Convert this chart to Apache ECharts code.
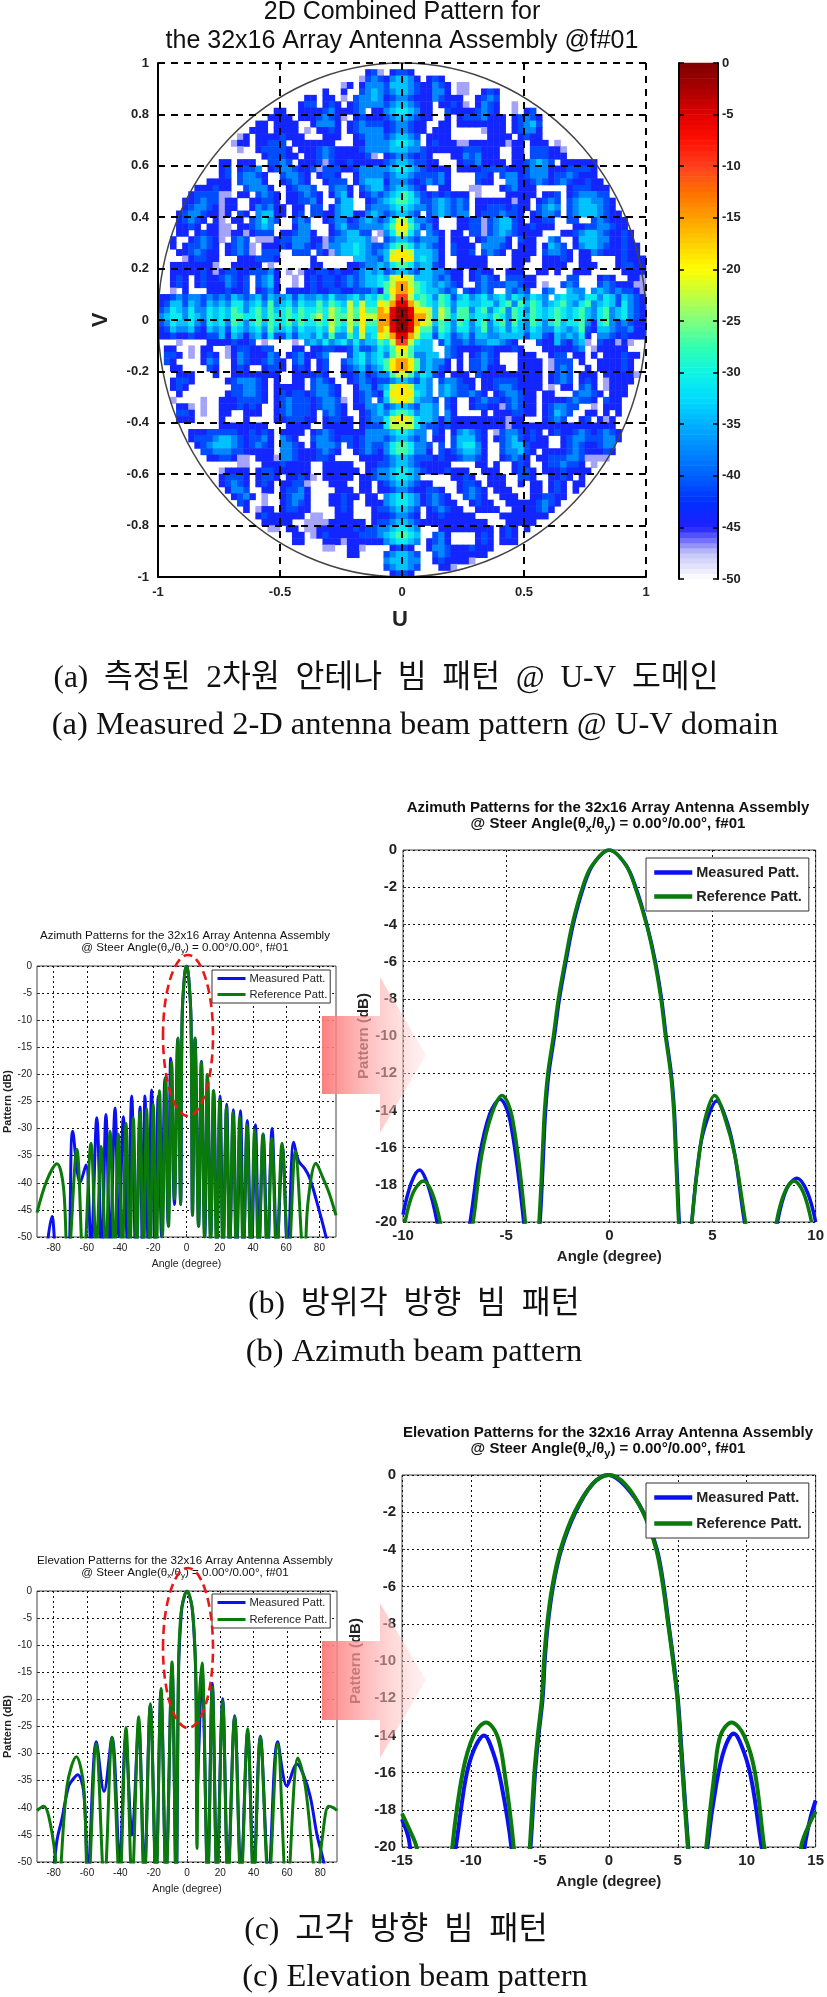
<!DOCTYPE html>
<html><head><meta charset="utf-8">
<style>html,body{margin:0;padding:0;background:#fff}#c{width:827px;height:1997px}</style>
<script src="https://cdn.jsdelivr.net/npm/echarts@6/dist/echarts.min.js"></script>
</head><body><div id="c"></div>
<script>
// Level codes, dB for each code
const levelDb = {a:-47,b:-44,c:-41,d:-37.5,e:-34,f:-31,g:-27,h:-22.5,i:-19,j:-15,k:-10,l:-5,m:-1};
const heatUL = [
"..... ..... ..... ..... ..... ..... ..... .....",
"..... ..... ..... ..... ..... ..... ....b ca.bd",
"..... ..... ..... ..... ..... ..... ...ac dcace",
"..... ..... ..... ..... ..... ..... ab.bd ddbde",
"..... ..... ..... ..... ..... ..b.. b..cd edbde",
"..... ..... ..... ..... ....b b.bb. a.cdd edbde",
"..... ..... ..... ..... ...bc c.bcb .bcdd ddbee",
"..... ..... ..... ....b b..bb bbcdb bbcd. bb.ee",
"..... ..... ..... ...bb bb.bb bcdcb a.bcb bbace",
"..... ..... ..... .bb.b bbb.. bdddb .bcdc ccade",
"..... ..... ..... bbb.b bbb.a .bbcb .bcdd ddaef",
"..... ..... ...ab .bbbb cbbb. ..bbb ..bcd ddaef",
"..... ..... ..abb .bbcc c.bbb bbbb. ..bbd ddaef",
"..... ..... ...a. .bccc cb.bb bcdcb bbbcd ddbee",
"..... ..... ..... ..bcc cbb.b bcdcb bbbbc a..de",
"..... ..... bb.bb b..cc dc.bb bcacb bcbbb bbbde",
"..... ..... bc.bc cd.bc ddcbb caccc bbcdd ddcef",
"..... ..... bc.cd dcb.. cddcb .bccb ..bdd ddcee",
"..... ...bb bb.cd ddb.. bcdcb ..bcc c.bde eedee",
"..... .bbbc bb..c dddb. .bcdd c..cd db.cd eeefg",
"..... bcccc aa.bb .cdcb .bbcd cb.bd eb.bc dccfg",
"....b bcdcc abb.. bbccb .bbcc db..c ee..b cdagh",
"....b cddcb abb.. bdcdb b.bb. cc.bd ee..c ddagh",
"...bc ddcbb ab.cb .deeb b.bc. ccbbd eebbd edbgh",
"...bc dcb.b a.bb. cdfdc ..cdc ..bcd dbcde dcbgi",
"...bb cb.bb aa.bb cded. ..bdd ...bd eccdd ddbgi",
"...bb .bcbb aabba bccc. bbcdd b..bc deecc .adhi",
"..b.. bcdcb a.cdc .aaab ccddd bbacd deeed a.ehi",
"..b.b ccdcb .bcdc a.bbb cbddc bcadd eefed ccfhi",
"...bb cdcbb .bcdc a.ccc ..ccc .cbad eefed cdfhi",
"....a bccbb ...bb bcccb ..... b.... ..eed dcfhj",
"..bbb bbbba ..bbb bb.a. ..... bb... .bbcd deghj",
"..bbb bbcba bccbb cccdb .a.ab bccbc bbcde defij",
"..bcb .bcbb cdcbc .cdeb ..a.b cbccb cdcde efgjj",
"..bcb .bcbb bdcbc .cdeb ..a.b cbccb cdcde efgjk",
"..a.b ...bb bcbbc .bcdb .bbbb cbbcc bbccc dbgij",
"bbcdc ddcdc dcedc deced deced dedfd defdf eghij",
"bceec edced edffd efdgd efdfe egegf ehfhf figkl",
"cdfed fddfe fegfd fgege fgegf fgfhg fhgig gjhlm",
"deffd fedfe feggf fgegf fgfgf ghfhg ghgih hjilm"
];
const heatUR = [
"..... ..... ..... ..... ..... ..... ..... .....",
"dc... ..... ..... ..... ..... ..... ..... .....",
"ed..b cb... ..... ..... ..... ..... ..... .....",
"eb.bb dcb.a a.... ..... ..... ..... ..... .....",
"eb.bb ddb.a a..bc b.... ..... ..... ..... .....",
"ed.bb dcbbb ..bcd c.... ..... ..... ..... .....",
"edbbb .bbcb a.bdc b..a. ..... ..... ..... .....",
"dcbbb ..cbb bbcdc b..a. bc... ..... ..... .....",
"dcbbb ..b.b cccdb bb.bc dcb.. ..... ..... .....",
"edbb. .bb.b bbbbb bb.bc dec.. ..... ..... .....",
"eebb. bbb.. ...ab bb.bc ddb.. ..... ..... .....",
"eeb.b bbb.. ....b bbb.b cbb.. ..... ..... .....",
"eeb.b cbbba abbbb bbabb .bbb. a.... ..... .....",
"deccb bbbbb cccbb b..bb .cccb ba... ..... .....",
"dddcb ...bb dcdbb b..bb .cccb bb... ..... .....",
"eedcb b...b ccdbb bb.bb cdedc .bbbb bb... .....",
"eedcb bbb.b bbbcc ccbbb cdddb bbccc cb... .....",
"eedcc cdb.. ..ccb .cddb cdddb ccdcb bb... .....",
"fedcd cdb.. ..cbb ..ddb bcdcb cdcbb cbb.. .....",
"fedb. .bb.. .aa.. .bcdb bb... ..bcc cbbb. .....",
"gedcb cbcbb b.a.. ..bbb bb.bb c.bcd ddcc. .....",
"gfecc dedcd c.bbb bbbab b.bcd c.cde eddcb .....",
"hfedc dedcd c.bbc ccbcb b.cde d.cde eedcb .....",
"hgf.c dedcd d.bcc cdccb .bcdd c.cde eedcb b....",
"ig.dc b...b bccac deecb .bbcc ..cc. .cdcb bb...",
"ig.cd b...b bccac deecb bcbbb ...bb ccddc bb...",
"ig..d cb.bb .ccac dedcb bbb.. .bbcd eedcb bcb..",
"ih.dd db.bb b.bcd ddb.c bb..d c..be eeddb bcb..",
"ihfed cb.cb bb.dd dcb.b bb.be dc.bd eedcb bcbb.",
"ihfee db.cb bc.cd cb.bb bb.cd dcb.b bdcbb bcbb.",
"jhefe db..b bbbb. ...bb b..bb bcb.b b.... bcbbb",
"jheee cb..b bbbb. ...bb ...bb bb..b bb... bccbb",
"kgfee ddcbb .bcbb ..bbb ..bb. b..bb b.... .bbbb",
"kgfee dcdbb .bcdc b.ccc bb... ..cc. ..bcb ..bba",
"kgffe dedcb ..cdc ccddc bb.a. .cdc. ..cdc bbbaa",
"ighfe edcd. cbcdc ..dcd c..cd ..edd .dedc dccba",
"khfgf dgfce fdefd efdfe dfed. efeed ffdfe cedcb",
"liegf egfdf feeff dfgdg egfde fgedf gdefe cfdcb",
"mkfih ehgdg gdfgd fgdgf dgfef gfefg edfgd efdcb",
"mlgjh ehgeg geffe gfdgf egfef gfefg edfgd efdcb"
];
const heatLL = [
"cdfee fdcfe fdgfd fgegf fgegf fgfhg fhgig gjhlm",
"bcedd ecbed ecfed efdge efdfe efehf eheif fjhkl",
"bbcbb cbbcc ebedb decfc cecee dfdgd dgehe fihjk",
"...a. ...bb bbcbb c.a.. ..a.d edfde fdfde eggfg",
".bb.. a.bb. .abcc bbcc. ..bb. bbccb bcecc dfg..",
".ccb. a.bcb .abdc bbbdc .bcdb bcd.. .cefd efhhi",
".cb.. ..bdc ..bdc bbcdc b.cdb .bc.. cdefd efgij",
"..bb. ...cb ..bcb ..bcc b.bcb .bc.. bcdec defij",
"...bb b...b ..bbb bbbbb ..bbb bcb.. bbcdb cddhi",
"..bcc b.... .bcdd dcb.b ..bb. cdcb. .bcdc bcdhj",
"..bcb ..... ..ccd dcb.b bbbb. cddcb ..bdd bdehj",
"...b. ..... .bccd dcb.b cbccb cddcb ..bcd cb.gi",
"..a.. ..a.. bbbcc ccb.b cdccc bcddc a.bcd .cdhh",
"...bb a.a.. bbbcb cb..b cdccc bcddc b.bbd dedgh",
"...cc b.a.. bb..b bb..b cdccc b.cdc b..bc dedhi",
"...bb b.... b...b ....b bcccb b.bcc bb.bc ddehi",
"..... ..... bbbbb bbb.. .bbbb ..bbb bb.bc ccdef",
"..... bbbcc cccbb cbcb. bbbb. bcdcb bbbbd ddbef",
"..... bcccd eedcb ccdb. dcb.. cddcb ccbcd dd.fg",
"..... .bcde eedcb cdcb. ddcb. bdddc .cbcd cc.fg",
"..... ..ccd ddccb bbbb. ddcbb bcdcb ..bcd cbcef",
"..... ...bb ccbaa .bbba ddcbb bccb. ...bb bbbde",
"..... ..... ...aa ..bbb cbbbb ..bbb bb..b bccde",
"..... ..... abbbb .bccb bbbbb ..bbb bbb.b cdcef",
"..... ..... bcccb .bccb .bbcb a.bbb bb.bb cdcef",
"..... ..... bcdcb .bcb. bbcca ...bb b..bb .bdef",
"..... ..... .bddc ..bb. bccdb ....b bb.bb .bdef",
"..... ..... ..bcd b.a.. bcddb ...bb cbb.b b.cef",
"..... ..... ...cb ..a.. bcdcb ...bb cb..b bbdef",
"..... ..... ....b .abb. bccbb ....b cb... bcd.e",
"..... ..... ..... .bcbb bbbb. aa..b bb... bbdde",
"..... ..... ..... ..bbb bb..a aaabb bbbb. bcdef",
"..... ..... ..... ...aa .bb.a abbbb bbcbc cdefe",
"..... ..... ..... ..... ..bb. abcbb bbbcc cdedc",
"..... ..... ..... ..... ..bb. ..bbb abbbb bbcc.",
"..... ..... ..... ..... ..... ..aa. .bba. ..dee",
"..... ..... ..... ..... ..... ..... .bb.. ..dee",
"..... ..... ..... ..... ..... ..... ..... ...de",
"..... ..... ..... ..... ..... ..... ..... ...cd",
"..... ..... ..... ..... ..... ..... ..... ....."
];
const heatLR = [
"mkgih egfdg fdfgd fgdge dgfdf geffg dbfgd cdcbb",
"lifgg dgfdf fdegd efdfe dfedd fedeg cbeed ccdbb",
"jhfff cfecd eceed deeee ceecb ededf b.ddc bcbbb",
"ggeee .cecc dcdde edcb. ..cbb ecbde a.cbb aba..",
"c.dee ..dcb bbbcc bbbcb ...bb bbbcd .abbb bb...",
"hifde e.dcb .bcdc b...b bb..b cc.bb .b.bb bcbb.",
"ijfde ddb.b .ccdc b...b bbb.a ccc.b ..bbb bcb..",
"ijfde dcb.b .ccdb bb..b bbb.a cdc.. b.bbb bcb..",
"gghfe cb.bb b.cbb bbbbb bbb.b cdc.b bb.bb bbba.",
"ijged .cddc bb.bb ccccb bbb.b cdc.b cb.ab bbb..",
"jjged .dedc cb.bb cddcb bbb.a .bb.c db.ab bb...",
"ijged .dedc cdcb. bcddc bb.bb ...cd dcb.b bb...",
"hhgdd c.cb. .bcdc cbcdc bb.bb bbcdc cb.cb b....",
"gigee d.cb. .bccb bacdc bb.bc ddcc. .a.bb b....",
"hihee d.db. ...b. bbbcc bb.bc edc.. bb.b. b....",
"hhgee dbdbb bbbbb bbabb ...bc dc..b c.bab .....",
"eeedc cbcbb bbbbb bbabb bbbbb bbbbb bbbbb .....",
"fggd. cb.bd edcb. acddc bcb.b cbbcd cbcdc b....",
"gged. bb.ce eecb. bcdec bcbb. .bcdd cccdd b....",
"ggedc .c.ce ffdb. .cdee cbbb. .bcdc bbcdd .....",
"ffddb .cbcd eedb. .cdde cb.bb bbcdc bbbcb .....",
"fedcc bcbbc ddcb. .bcdc b.bbc ccddc aaaa. .....",
"edcbb bbb.. ..bb. b..bc b..bc cdccb .a... .....",
"eedcb bbcbb b..bb b..bc cb.bb bcbbb b.... .....",
"ddb.. ...bb cb..b bb..c cb..b bcb.b ..... .....",
"e..bb ....b ccb.b bb..b .bb.b cb.bb ..... .....",
"eebbc cb..b cdcb. bbb.. .bb.b cb.b. ..... .....",
"fedbc dcb.. cdcb. .bbb. .bbcc bb... ..... .....",
"fedbc dcbb. .bcbb ..bbb bbcdc b.... ..... .....",
"eeb.b cdcbb ..bbb b..bb bbcdb ..... ..... .....",
"ed..b bcbbb bb... .bbbb bbbb. ..... ..... .....",
"dd.bb bbbbb bbbb. ..bbb bb... ..... ..... .....",
"eeb.. .bbbb bbbbb .bcb. b.... ..... ..... .....",
"ed... cdb.. ..bcb .bcb. ..... ..... ..... .....",
"dc..b cdb.. ..bcb .bbb. ..... ..... ..... .....",
"ec..b ddcbb bcbbb ..... ..... ..... ..... .....",
"eb... cdcbb bbbb. ..... ..... ..... ..... .....",
"da... bcbbb ba... ..... ..... ..... ..... .....",
"a.... .bba. ..... ..... ..... ..... ..... .....",
"..... ..... ..... ..... ..... ..... ..... ....."
];
// The bright vertical strip at U = 0, six cells wide, one entry per row from V = 1 down to V = -1
const heatCentre = [
"......",".bccb.","bdeedb","ceeedc","cdeedc","bcddcb","cdeedc","deffed","cdeedc","bcddcb",
"bcddcb","cdeedc","deffed","deeedd","bcddcb","cdeedc","deffed","cdeedc","bdddcb","cdeedc",
"defgfd","efggfe","deffed","cdeedc","dfhhfd","egiige","dfhhfd","cdeedc","dfggfd","ehiihe",
"eiiiie","dfggfd","cdeedc","ehiihe","ghjjhg","gijjig","fhkkhf","hjlljh","ilmmli","jlmmlj",
"jlmmlj","ilmmli","hjlljh","fhkkhf","egiige","dghhgd","gijjig","gijjig","dghhgd","cdeedc",
"ehiihe","fiiiif","ehiihe","cdeedc","dfggfd","fhiihf","fhhhhf","deffed","cdeedc","dfggfd",
"dfggfd","cdeedc","cdeedc","deffed","deffed","cdeedc","bcddcb","deffed","deffed","cdeedc",
"bcddcb","cdeedc","deffed","efggfe","deffed",".bccb.","cdeedc","deeedd","cdeedc",".bccb."
];
// Colour-bar scale, dB
const colorStops = ['#ffffff','#c4c4f8','#2020ff','#0030ff','#0060ff','#0088ff','#00b0ff','#00dcff','#10f4e4','#30ffb0','#80ff80','#c0ff40','#ffff00','#ffd000','#ffa000','#ff7000','#ff4020','#ff1000','#e00000','#a80000','#800000'];
const barTop = 0, barBottom = -50;

// Azimuth, full range
const azMeasured = [[-85,-55],[-81,-46.2],[-77.5,-55],[-72,-56],[-68.5,-30.5],[-64,-40],[-60.5,-36.7],[-57.5,-52],[-54,-28],[-51,-54],[-48.5,-27.4],[-46,-52],[-43,-26.2],[-40.7,-50],[-38,-27.8],[-35.5,-52],[-33,-24],[-30.5,-54],[-28,-26],[-26.5,-54],[-25,-24],[-23,-52],[-21,-22.9],[-19,-52],[-17,-24],[-15,-50],[-13,-20.7],[-11,-48],[-9.5,-17],[-7.3,-44],[-5.3,-13.4],[-3.5,-44],[-2.65,-10],[-1.25,-2],[0,0],[1.3,-2],[2.75,-10],[3.6,-46],[5.2,-13.5],[7.3,-48],[9,-17.6],[11,-50],[12.7,-20.5],[14.6,-50],[16.4,-23],[18.3,-52],[20.2,-24],[22,-52],[24.2,-25.5],[26,-52],[28.2,-26.5],[30.2,-54],[32.5,-26.7],[34.4,-52],[36.6,-28.5],[39,-54],[41.5,-29.3],[43.6,-52],[46.2,-31],[48.8,-54],[51.5,-30],[54.5,-52],[57.8,-33.5],[61,-54],[64.5,-32.5],[67.5,-36],[71,-37.3],[74,-39],[78,-43],[84,-50],[88,-56]];
const azReference = [[-90,-45.5],[-84,-39.5],[-78,-36.5],[-74,-41],[-71.5,-56],[-66,-33.8],[-62,-56],[-57.5,-32.7],[-54.3,-52],[-51.4,-33.3],[-48.6,-54],[-46,-30.5],[-43.4,-54],[-41,-31],[-38.7,-54],[-36.4,-29],[-34.2,-54],[-32,-28],[-30,-54],[-28,-27],[-25.9,-54],[-24,-26.3],[-22,-54],[-20,-25.5],[-18.2,-54],[-16.2,-23],[-14.5,-50],[-12.5,-20.4],[-10.8,-48],[-8.9,-17.8],[-7.2,-43],[-5.2,-13.3],[-3.6,-44],[-2.7,-10],[-1.3,-2],[0,0],[1.25,-2],[2.7,-10],[3.6,-46],[5.1,-13.3],[7.2,-48],[8.9,-17.8],[10.8,-50],[12.5,-20],[14.5,-52],[16.2,-23],[18.2,-54],[20,-24.7],[22,-54],[24,-26],[25.9,-54],[28,-27],[30,-54],[32,-27.8],[34.2,-54],[36.4,-29.3],[38.7,-54],[41,-30.2],[43.4,-54],[46,-31],[48.6,-54],[51.4,-31.8],[54.3,-54],[57.5,-32.7],[61.5,-54],[65.5,-34.2],[71,-56],[73,-44],[78,-36.4],[82,-39],[86,-42],[90,-46]];
// Azimuth, close-up
const azZoomMeasured = [[-10,-19.6],[-9.6,-17.9],[-9.2,-17.2],[-8.8,-18],[-8.35,-20],[-7.6,-25],[-6.75,-20],[-6.3,-16.5],[-5.8,-14.2],[-5.3,-13.4],[-4.8,-14.6],[-4.15,-20],[-3.75,-25],[-3.36,-20],[-3.26,-18],[-3.18,-16],[-3.09,-14],[-2.93,-12],[-2.66,-10],[-2.42,-8],[-2.1,-6],[-1.75,-4],[-1.25,-2],[-0.8,-0.8],[0,0],[0.8,-0.8],[1.28,-2],[1.82,-4],[2.23,-6],[2.53,-8],[2.75,-10],[3,-12],[3.15,-14],[3.23,-16],[3.31,-18],[3.39,-20],[3.7,-25],[4,-20],[4.4,-16],[4.8,-14.3],[5.2,-13.5],[5.7,-14.6],[6.1,-16.5],[6.55,-20],[7.4,-25],[8.15,-20],[8.6,-18.2],[9.1,-17.65],[9.6,-18.4],[10,-20]];
const azZoomReference = [[-9.9,-20],[-9.5,-18.4],[-9,-17.8],[-8.6,-18.4],[-8.2,-20],[-7.4,-25],[-6.6,-20],[-6.2,-16.5],[-5.7,-14.2],[-5.2,-13.2],[-4.7,-14.4],[-4.07,-20],[-3.75,-25],[-3.41,-20],[-3.31,-18],[-3.23,-16],[-3.14,-14],[-2.98,-12],[-2.71,-10],[-2.47,-8],[-2.15,-6],[-1.8,-4],[-1.3,-2],[-0.85,-0.85],[0,0],[0.8,-0.8],[1.25,-2],[1.8,-4],[2.2,-6],[2.5,-8],[2.72,-10],[2.97,-12],[3.12,-14],[3.2,-16],[3.28,-18],[3.36,-20],[3.7,-25],[4,-20],[4.4,-16],[4.7,-14.2],[5.1,-13.2],[5.6,-14.4],[6.1,-16.5],[6.6,-20],[7.4,-25],[8.1,-20],[8.5,-18.4],[8.95,-17.8],[9.4,-18.4],[9.8,-20]];
// Elevation, full range
const elMeasured = [[-80,-52],[-78,-46],[-75,-42],[-71,-36],[-68,-34.6],[-65.6,-33.9],[-62,-37],[-59.5,-52],[-54.4,-27.8],[-49.8,-37],[-45,-27],[-40.4,-50],[-36.8,-27.2],[-33,-45],[-29,-24.8],[-25.6,-52],[-22,-21],[-18.6,-52],[-15.6,-18.5],[-12.6,-52],[-9,-14.3],[-6.5,-55],[-5,-14],[-3.4,-4],[-2.4,-2],[0,0],[2.4,-2],[3.4,-4],[4.6,-10],[5.6,-20],[6,-38],[7,-30],[9,-14.6],[12.4,-52],[15.2,-17],[18,-52],[21.4,-19.9],[24.6,-52],[28.6,-23],[32.4,-52],[36.4,-26],[40,-52],[44,-26.8],[49,-52],[54.4,-27.8],[60,-36],[66,-31.9],[70,-34],[74,-38],[78,-45],[82,-50],[84,-54]];
const elReference = [[-90,-40.5],[-86,-39.7],[-83,-41.5],[-79,-49],[-77.5,-56],[-72,-36],[-66.4,-30.6],[-62,-36],[-59.5,-56],[-54.4,-28.2],[-49.6,-54],[-45,-27],[-40.4,-54],[-36.6,-25.2],[-33,-54],[-29,-23.2],[-25.6,-54],[-22,-20.8],[-18.6,-54],[-15.6,-18],[-12.6,-54],[-9,-13.1],[-6.6,-54],[-5.1,-14],[-4.1,-6],[-2.5,-2],[0,0],[2.5,-2],[3.94,-6],[5.16,-14],[6,-47.5],[7.1,-22],[9,-13.3],[12.4,-54],[15.2,-17.7],[18,-54],[21.4,-20.3],[24.6,-54],[28.6,-23.2],[32.4,-54],[36.4,-25.4],[40,-54],[44,-27],[49,-54],[54.4,-28.2],[60,-56],[66.6,-30.8],[71,-36],[76.4,-52],[78,-54],[81,-46],[85,-39.7],[88,-40],[90,-40.5]];
// Elevation, close-up
const elZoomMeasured = [[-15,-18.5],[-14.5,-19.6],[-13.9,-23],[-12.5,-26],[-11.1,-20],[-10.4,-16.4],[-9.8,-14.8],[-9.05,-14],[-8.4,-14.9],[-7.8,-16.6],[-7.07,-20],[-6.4,-26],[-5.68,-20],[-5.35,-16],[-5.1,-14],[-4.8,-12],[-4.65,-10],[-4.42,-8],[-4.05,-6],[-3.45,-4],[-2.42,-2],[-1.2,-0.5],[0,0],[1.2,-0.6],[2.5,-2],[3.48,-4],[3.98,-6],[4.33,-8],[4.69,-10],[5,-12],[5.2,-14],[5.38,-16],[5.76,-20],[6.4,-26],[7.15,-20],[7.8,-16.6],[8.4,-14.7],[9.05,-13.9],[9.8,-14.9],[10.4,-16.6],[11.08,-20],[12.5,-26],[13.9,-22],[14.2,-20],[14.6,-18.5],[15,-17.5]];
const elZoomReference = [[-15,-18.2],[-14.5,-19],[-13.95,-20],[-13,-24],[-12,-26],[-11.35,-20],[-10.6,-16],[-9.8,-14],[-8.9,-13.3],[-8.1,-14],[-7.6,-15.8],[-6.9,-20],[-6.3,-26],[-5.73,-20],[-5.4,-16],[-5.15,-14],[-4.85,-12],[-4.7,-10],[-4.47,-8],[-4.1,-6],[-3.5,-4],[-2.48,-2],[-1.2,-0.5],[0,0],[1.2,-0.5],[2.48,-2],[3.44,-4],[3.94,-6],[4.3,-8],[4.66,-10],[4.97,-12],[5.16,-14],[5.35,-16],[5.73,-20],[6.4,-26],[7.07,-20],[7.7,-15.8],[8.1,-14],[8.9,-13.3],[9.8,-14],[10.6,-16],[11.27,-20],[12.5,-26],[13.6,-24],[13.95,-20],[14.4,-19],[15,-18.1]];

const fullAngleTicks = [-80,-60,-40,-20,0,20,40,60,80];
const names = ['Measured Patt.','Reference Patt.'];
const BLUE = '#0a10f0', GREEN = '#0a7a0a';
const SANS = '"Liberation Sans",Arial,sans-serif';
const SERIF = '"Liberation Serif","Noto Sans CJK KR",serif';

const heatRows = [];
const norm = s => s.replace(/ /g,'').padEnd(40,'.').slice(0,40);
for (let i=0;i<40;i++) heatRows.push(norm(heatUL[i])+norm(heatUR[i]));
for (let i=0;i<40;i++) heatRows.push(norm(heatLL[i])+norm(heatLR[i]));
const heatData = [];
heatRows.forEach((r,row)=>{
  const full = r.slice(0,37)+heatCentre[row]+r.slice(43);
  for(let c=0;c<80;c++){ const d=levelDb[full[c]]; if(d!==undefined) heatData.push([c,79-row,d]); }
});
const idx = n => Array.from({length:n},(_,i)=>i);
const barSteps = []; for(let v=barBottom;v<barTop;v+=0.5) barSteps.push(v);
const barData = barSteps.map((v,i)=>[0,i,v+0.25]);

const hiddenCat = (gridIndex,n)=>({type:'category',gridIndex,data:idx(n),show:false});
function lineAxisX(gridIndex,min,max,interval,big,custom){
  const fs = big?15:10;
  const o={type:'value',gridIndex,min,max,name:'Angle (degree)',nameLocation:'middle',nameGap:big?27:22,
    nameTextStyle:{fontFamily:SANS,fontSize:big?15:10.5,fontWeight:big?'bold':'normal',color:'#222'},
    axisLine:{show:false,onZero:false},
    axisTick:{show:true,inside:true,length:3,lineStyle:{color:'#333'}},
    axisLabel:{fontFamily:SANS,fontSize:fs,fontWeight:big?'bold':'normal',color:'#222',margin:6,showMinLabel:true,showMaxLabel:true,hideOverlap:false},
    splitLine:{show:true,lineStyle:{color:'#111',type:[2,3],width:1}}};
  if(custom){o.axisTick.customValues=custom;o.axisLabel.customValues=custom;} else o.interval=interval;
  return o;
}
function lineAxisY(gridIndex,min,interval,big){
  return {type:'value',gridIndex,min,max:0,interval,name:'Pattern (dB)',nameLocation:'middle',nameGap:big?32:24,
    nameTextStyle:{fontFamily:SANS,fontSize:big?15:11,fontWeight:'bold',color:'#222'},
    axisLine:{show:false,onZero:false},
    axisTick:{show:true,inside:true,length:3,lineStyle:{color:'#333'}},
    axisLabel:{fontFamily:SANS,fontSize:big?15:10,fontWeight:big?'bold':'normal',color:'#222',margin:big?6:5},
    splitLine:{show:true,lineStyle:{color:'#111',type:[2,3],width:1}}};
}
const pageGrid=(l,t,r,b,show)=>({left:l,top:t,width:r-l,height:b-t,containLabel:false,show:!!show,borderColor:'#444',borderWidth:1,backgroundColor:'transparent'});
const lineSeries=(name,data,color,ax,w)=>({type:'line',name,data,xAxisIndex:ax,yAxisIndex:ax,symbol:'none',smooth:0.35,clip:true,
   lineStyle:{color,width:w},itemStyle:{color},animation:false,z:color===GREEN?4:3});
const legendAt=(left,top,big,gap)=>({orient:'vertical',left,top,data:names,itemWidth:big?38:28,itemHeight:big?4:3,itemGap:gap,padding:big?[7,7,7,6]:[3,3,3,4],
   backgroundColor:'#fff',borderColor:'#333',borderWidth:1,selectedMode:false,z:20,lineStyle:{width:big?4.5:3},
   textStyle:{fontFamily:SANS,fontSize:big?14.5:11.2,fontWeight:big?'bold':'normal',color:'#222',padding:[0,0,0,-1]}});
const T=(text,left,top,size,font,weight,color,extra)=>({text,left,top,textAlign:'center',textVerticalAlign:'middle',padding:0,z:30,
   textStyle:Object.assign({fontFamily:font,fontSize:size,fontWeight:weight||'normal',color:color||'#111'},extra||{})});
const subRich=(s,p)=>({rich:{s:{fontFamily:SANS,fontSize:s,fontWeight:p,padding:[Math.round(s*0.8),0,0,0],color:'#111'}}});

const option={
  animation:false,backgroundColor:'#fff',
  title:[
    T('2D Combined Pattern for',402,12,25,SANS),
    T('the 32x16 Array Antenna Assembly @f#01',402,41,25,SANS),
    T('U',400,620,22,SANS,'bold','#222'),
    T('(a)  측정된  2차원  안테나  빔  패턴  @  U-V  도메인',386,679,31.4,SERIF),
    T('(a) Measured 2-D antenna beam pattern @ U-V domain',415,725,32.5,SERIF),
    T('Azimuth Patterns for the 32x16 Array Antenna Assembly',185,936,11.6,SANS),
    T('@ Steer Angle(θ{s|x}/θ{s|y}) = 0.00°/0.00°, f#01',185,948,11.6,SANS,'normal','#111',subRich(8,'normal')),
    T('Azimuth Patterns for the 32x16 Array Antenna Assembly',608,808,15,SANS,'bold'),
    T('@ Steer Angle(θ{s|x}/θ{s|y}) = 0.00°/0.00°, f#01',608,824,15,SANS,'bold','#111',subRich(11,'bold')),
    T('(b)  방위각  방향  빔  패턴',414,1305,31.5,SERIF),
    T('(b) Azimuth beam pattern',414,1352,32.5,SERIF),
    T('Elevation Patterns for the 32x16 Array Antenna Assembly',185,1561,11.6,SANS),
    T('@ Steer Angle(θ{s|x}/θ{s|y}) = 0.00°/0.00°, f#01',185,1573,11.6,SANS,'normal','#111',subRich(8,'normal')),
    T('Elevation Patterns for the 32x16 Array Antenna Assembly',608,1433,15,SANS,'bold'),
    T('@ Steer Angle(θ{s|x}/θ{s|y}) = 0.00°/0.00°, f#01',608,1449,15,SANS,'bold','#111',subRich(11,'bold')),
    T('(c)  고각  방향  빔  패턴',396,1931,31.8,SERIF),
    T('(c) Elevation beam pattern',415,1977,32.5,SERIF)
  ],
  grid:[
    pageGrid(158,63,646,577), pageGrid(158,63,646,577),
    pageGrid(679,63,718,579), pageGrid(679,63,718,579),
    pageGrid(37,966,336,1237,true), pageGrid(403,850,816,1222,true),
    pageGrid(37,1591,337,1862,true), pageGrid(402,1475,816,1847,true)
  ],
  xAxis:[
    hiddenCat(0,80),
    {type:'value',gridIndex:1,min:-1,max:1,interval:0.5,z:10,
      axisLine:{show:true,onZero:false,lineStyle:{color:'#000',width:2}},
      axisTick:{show:false},axisLabel:{fontFamily:SANS,fontSize:13,fontWeight:'bold',color:'#222',margin:9},
      splitLine:{show:true,lineStyle:{color:'#000',type:[7,6],width:2}}},
    hiddenCat(2,1),
    {type:'value',gridIndex:3,min:0,max:1,show:false},
    lineAxisX(4,-90,90,20,false,fullAngleTicks),
    lineAxisX(5,-10,10,5,true),
    lineAxisX(6,-90,90,20,false,fullAngleTicks),
    lineAxisX(7,-15,15,5,true)
  ],
  yAxis:[
    hiddenCat(0,80),
    {type:'value',gridIndex:1,min:-1,max:1,interval:0.2,z:10,
      name:'V',nameLocation:'middle',nameGap:46,nameTextStyle:{fontFamily:SANS,fontSize:22,fontWeight:'bold',color:'#222'},
      axisLine:{show:true,onZero:false,lineStyle:{color:'#000',width:2}},
      axisTick:{show:false},axisLabel:{fontFamily:SANS,fontSize:13,fontWeight:'bold',color:'#222',margin:9},
      splitLine:{show:true,lineStyle:{color:'#000',type:[7,6],width:2}}},
    hiddenCat(2,barSteps.length),
    {type:'value',gridIndex:3,min:barBottom,max:barTop,interval:5,position:'right',z:10,
      axisLine:{show:true,onZero:false,lineStyle:{color:'#000',width:2}},
      axisTick:{show:true,inside:true,length:5,lineStyle:{color:'#000',width:1.5}},
      axisLabel:{fontFamily:SANS,fontSize:13,fontWeight:'bold',color:'#222',margin:4},splitLine:{show:false}},
    lineAxisY(4,-50,5,false),
    lineAxisY(5,-20,2,true),
    lineAxisY(6,-50,5,false),
    lineAxisY(7,-20,2,true),
    {type:'value',gridIndex:3,min:barBottom,max:barTop,interval:5,position:'left',z:10,
      axisLine:{show:true,onZero:false,lineStyle:{color:'#000',width:2}},
      axisTick:{show:true,inside:true,length:5,lineStyle:{color:'#000',width:1.5}},
      axisLabel:{show:false},splitLine:{show:false}}
  ],
  visualMap:[{type:'continuous',show:false,min:barBottom,max:barTop,dimension:2,seriesIndex:[0,2],inRange:{color:colorStops}}],
  legend:[legendAt(212,970,false,5),legendAt(646,858,true,9),legendAt(212,1594,false,6),legendAt(646,1483,true,11)],
  series:[
    {type:'heatmap',xAxisIndex:0,yAxisIndex:0,data:heatData,progressive:0,animation:false,z:2},
    {type:'custom',xAxisIndex:1,yAxisIndex:1,data:[[0,0]],z:3,silent:true,clip:false,
      renderItem:(p,api)=>{const c=api.coord([0,0]);const e=api.coord([1,1]);
        return {type:'ellipse',shape:{cx:c[0],cy:c[1],rx:e[0]-c[0],ry:c[1]-e[1]},style:{fill:'none',stroke:'#444',lineWidth:1.5}};}},
    {type:'heatmap',xAxisIndex:2,yAxisIndex:2,data:barData,progressive:0,animation:false,z:2},
    lineSeries(names[0],azMeasured,BLUE,4,3),
    lineSeries(names[1],azReference,GREEN,4,3),
    lineSeries(names[0],azZoomMeasured,BLUE,5,3.5),
    lineSeries(names[1],azZoomReference,GREEN,5,3.5),
    lineSeries(names[0],elMeasured,BLUE,6,3),
    lineSeries(names[1],elReference,GREEN,6,3),
    lineSeries(names[0],elZoomMeasured,BLUE,7,4),
    lineSeries(names[1],elZoomReference,GREEN,7,4)
  ],
  graphic:[
    ...[[1016,1094,977,1133,1055],[1641,1720,1603,1758,1680]].map(a=>({type:'polygon',z:50,silent:true,
      shape:{points:[[322,a[0]],[380,a[0]],[380,a[2]],[426,a[4]],[380,a[3]],[380,a[1]],[322,a[1]]]},
      style:{fill:new echarts.graphic.LinearGradient(0,0,1,0,[{offset:0,color:'rgba(252,120,120,0.95)'},{offset:0.55,color:'rgba(255,170,170,0.6)'},{offset:1,color:'rgba(255,215,215,0.35)'}])}})),
    {type:'ellipse',z:40,silent:true,shape:{cx:188,cy:1035.5,rx:25,ry:80.5},style:{fill:'none',stroke:'#e81818',lineWidth:2.6,lineDash:[9,5]}},
    {type:'ellipse',z:40,silent:true,shape:{cx:188,cy:1648,rx:25,ry:80},style:{fill:'none',stroke:'#e81818',lineWidth:2.6,lineDash:[9,5]}}
  ]
};
const chart=echarts.init(document.getElementById('c'),null,{renderer:'canvas',width:827,height:1997});
chart.setOption(option);
</script></body></html>
